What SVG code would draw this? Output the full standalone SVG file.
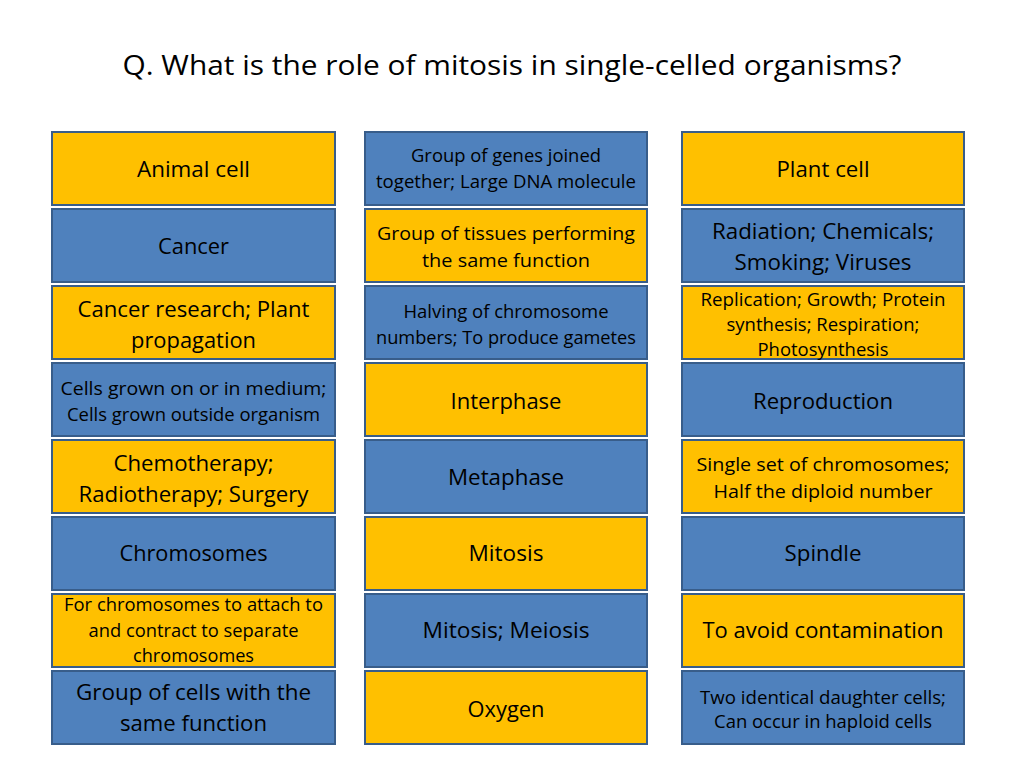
<svg xmlns="http://www.w3.org/2000/svg" width="1024" height="768" viewBox="0 0 1024 768">
<style>
text{font-family:"Open Sans","Noto Sans","Liberation Sans",sans-serif;fill:#000;text-anchor:middle}
.t{font-size:27.5px}
.b{font-size:22.4px}
.s{font-size:18.6px}
.y,.u{stroke:#385D8A;stroke-width:2}
.y{fill:#FFC000}
.u{fill:#4F81BD}
</style>
<rect x="0" y="0" width="1024" height="768" fill="#fff"/>
<text class="t" x="512" y="75" textLength="779" lengthAdjust="spacingAndGlyphs">Q. What is the role of mitosis in single-celled organisms?</text>
<g id="connectors"/>
<g id="c1r1"><rect class="y" x="52" y="132" width="283" height="73"/><text class="b" x="193.5" y="177" textLength="113" lengthAdjust="spacingAndGlyphs">Animal cell</text></g>
<g id="c1r2"><rect class="u" x="52" y="209" width="283" height="73"/><text class="b" x="193.5" y="254" textLength="71" lengthAdjust="spacingAndGlyphs">Cancer</text></g>
<g id="c1r3"><rect class="y" x="52" y="286" width="283" height="73"/><text class="b" x="193.5" y="317" textLength="232" lengthAdjust="spacingAndGlyphs">Cancer research; Plant</text><text class="b" x="193.5" y="348" textLength="125" lengthAdjust="spacingAndGlyphs">propagation</text></g>
<g id="c1r4"><rect class="u" x="52" y="363" width="283" height="73"/><text class="s" x="193.5" y="395" textLength="266" lengthAdjust="spacingAndGlyphs">Cells grown on or in medium;</text><text class="s" x="193.5" y="421" textLength="253" lengthAdjust="spacingAndGlyphs">Cells grown outside organism</text></g>
<g id="c1r5"><rect class="y" x="52" y="440" width="283" height="73"/><text class="b" x="193.5" y="471" textLength="160" lengthAdjust="spacingAndGlyphs">Chemotherapy;</text><text class="b" x="193.5" y="502" textLength="230" lengthAdjust="spacingAndGlyphs">Radiotherapy; Surgery</text></g>
<g id="c1r6"><rect class="u" x="52" y="517" width="283" height="73"/><text class="b" x="193.5" y="561" textLength="148" lengthAdjust="spacingAndGlyphs">Chromosomes</text></g>
<g id="c1r7"><rect class="y" x="52" y="594" width="283" height="73"/><text class="s" x="193.5" y="611" textLength="259" lengthAdjust="spacingAndGlyphs">For chromosomes to attach to</text><text class="s" x="193.5" y="637" textLength="210" lengthAdjust="spacingAndGlyphs">and contract to separate</text><text class="s" x="193.5" y="662" textLength="121" lengthAdjust="spacingAndGlyphs">chromosomes</text></g>
<g id="c1r8"><rect class="u" x="52" y="671" width="283" height="73"/><text class="b" x="193.5" y="700" textLength="235" lengthAdjust="spacingAndGlyphs">Group of cells with the</text><text class="b" x="193.5" y="731" textLength="147" lengthAdjust="spacingAndGlyphs">same function</text></g>
<g id="c2r1"><rect class="u" x="365" y="132" width="282" height="73"/><text class="s" x="506" y="162" textLength="190" lengthAdjust="spacingAndGlyphs">Group of genes joined</text><text class="s" x="506" y="188" textLength="260" lengthAdjust="spacingAndGlyphs">together; Large DNA molecule</text></g>
<g id="c2r2"><rect class="y" x="365" y="209" width="282" height="73"/><text class="s" x="506" y="240" textLength="258" lengthAdjust="spacingAndGlyphs">Group of tissues performing</text><text class="s" x="506" y="267" textLength="168" lengthAdjust="spacingAndGlyphs">the same function</text></g>
<g id="c2r3"><rect class="u" x="365" y="286" width="282" height="73"/><text class="s" x="506" y="318" textLength="205" lengthAdjust="spacingAndGlyphs">Halving of chromosome</text><text class="s" x="506" y="344" textLength="260" lengthAdjust="spacingAndGlyphs">numbers; To produce gametes</text></g>
<g id="c2r4"><rect class="y" x="365" y="363" width="282" height="73"/><text class="b" x="506" y="409" textLength="111" lengthAdjust="spacingAndGlyphs">Interphase</text></g>
<g id="c2r5"><rect class="u" x="365" y="440" width="282" height="73"/><text class="b" x="506" y="485" textLength="116" lengthAdjust="spacingAndGlyphs">Metaphase</text></g>
<g id="c2r6"><rect class="y" x="365" y="517" width="282" height="73"/><text class="b" x="506" y="561" textLength="75" lengthAdjust="spacingAndGlyphs">Mitosis</text></g>
<g id="c2r7"><rect class="u" x="365" y="594" width="282" height="73"/><text class="b" x="506" y="638" textLength="167" lengthAdjust="spacingAndGlyphs">Mitosis; Meiosis</text></g>
<g id="c2r8"><rect class="y" x="365" y="671" width="282" height="73"/><text class="b" x="506" y="717" textLength="77" lengthAdjust="spacingAndGlyphs">Oxygen</text></g>
<g id="c3r1"><rect class="y" x="682" y="132" width="282" height="73"/><text class="b" x="823" y="177" textLength="93" lengthAdjust="spacingAndGlyphs">Plant cell</text></g>
<g id="c3r2"><rect class="u" x="682" y="209" width="282" height="73"/><text class="b" x="823" y="239" textLength="222" lengthAdjust="spacingAndGlyphs">Radiation; Chemicals;</text><text class="b" x="823" y="270" textLength="177" lengthAdjust="spacingAndGlyphs">Smoking; Viruses</text></g>
<g id="c3r3"><rect class="y" x="682" y="286" width="282" height="73"/><text class="s" x="823" y="306" textLength="245" lengthAdjust="spacingAndGlyphs">Replication; Growth; Protein</text><text class="s" x="823" y="331" textLength="193" lengthAdjust="spacingAndGlyphs">synthesis; Respiration;</text><text class="s" x="823" y="356" textLength="131" lengthAdjust="spacingAndGlyphs">Photosynthesis</text></g>
<g id="c3r4"><rect class="u" x="682" y="363" width="282" height="73"/><text class="b" x="823" y="409" textLength="140" lengthAdjust="spacingAndGlyphs">Reproduction</text></g>
<g id="c3r5"><rect class="y" x="682" y="440" width="282" height="73"/><text class="s" x="823" y="471" textLength="253" lengthAdjust="spacingAndGlyphs">Single set of chromosomes;</text><text class="s" x="823" y="498" textLength="219" lengthAdjust="spacingAndGlyphs">Half the diploid number</text></g>
<g id="c3r6"><rect class="u" x="682" y="517" width="282" height="73"/><text class="b" x="823" y="561" textLength="77" lengthAdjust="spacingAndGlyphs">Spindle</text></g>
<g id="c3r7"><rect class="y" x="682" y="594" width="282" height="73"/><text class="b" x="823" y="638" textLength="241" lengthAdjust="spacingAndGlyphs">To avoid contamination</text></g>
<g id="c3r8"><rect class="u" x="682" y="671" width="282" height="73"/><text class="s" x="823" y="704" textLength="246" lengthAdjust="spacingAndGlyphs">Two identical daughter cells;</text><text class="s" x="823" y="728" textLength="218" lengthAdjust="spacingAndGlyphs">Can occur in haploid cells</text></g>
</svg>
